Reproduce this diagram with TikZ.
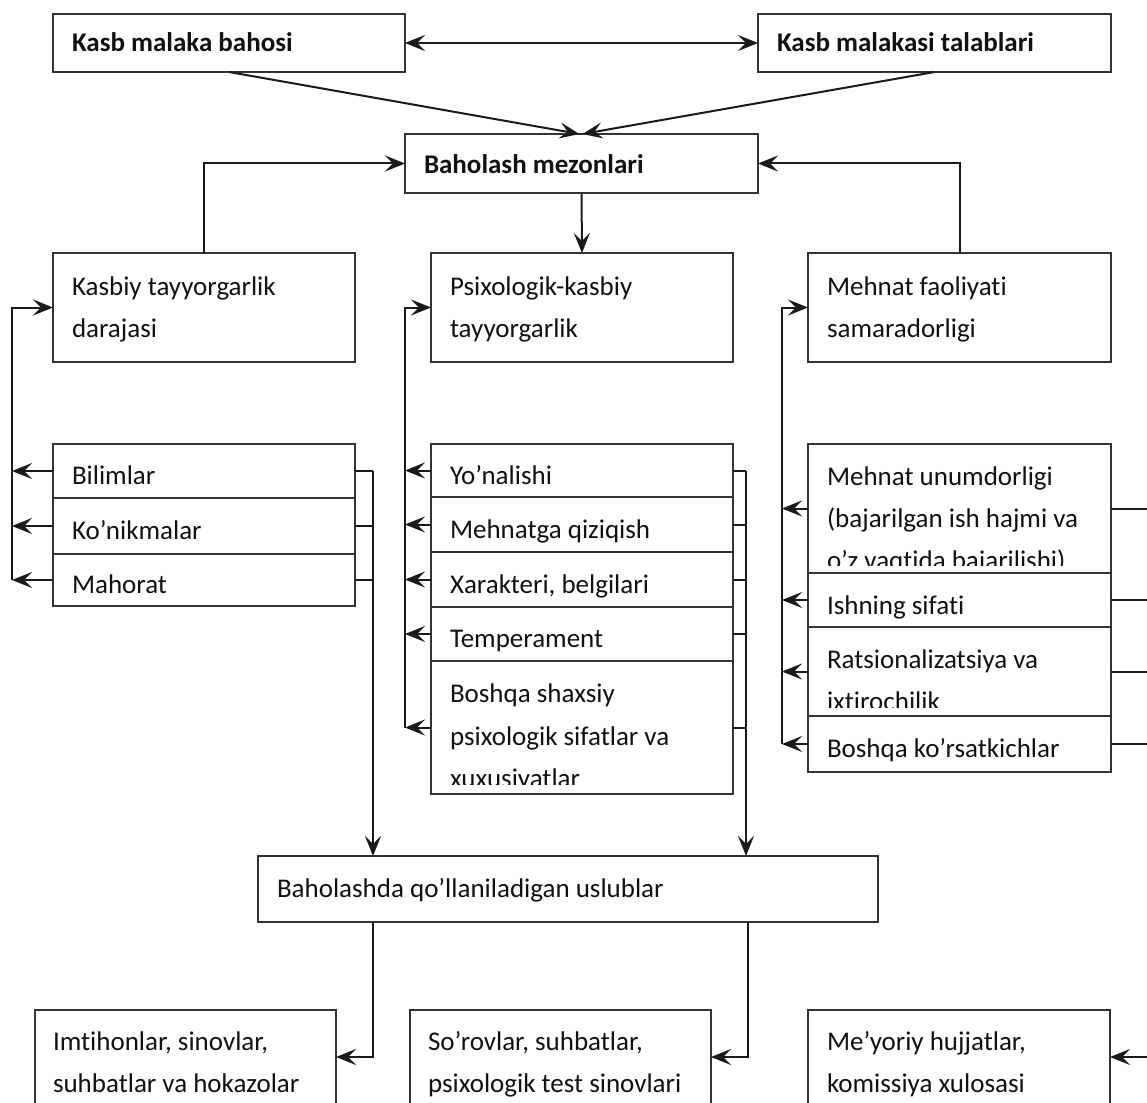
\documentclass[tikz,border=0pt]{standalone}
\usepackage{fontspec}
\setmainfont{Carlito}[Ligatures=NoCommon]
\usetikzlibrary{arrows.meta}
\definecolor{boxc}{HTML}{333333}
\definecolor{linec}{HTML}{1A1A1A}
\definecolor{txtc}{HTML}{111111}
\newcommand\bx[5]{\node[box, minimum width={(#4-#2)*1pt}, minimum height={(#5-#3)*1pt}, anchor=north west] (#1) at (#2,#3) {};}
\begin{document}
\begin{tikzpicture}[x=1pt,y=-1pt,
  box/.style={draw=boxc, line width=2pt, inner sep=0pt, outer sep=0pt, rectangle},
  txt/.style={anchor=base west, inner sep=0pt, outer sep=0pt, font=\fontsize{27}{30}\selectfont, text=txtc},
  btxt/.style={txt, font=\fontsize{27}{30}\selectfont\bfseries},
  conn/.style={draw=linec, line width=2pt},
  tip/.tip={Stealth[length=20pt,width=16pt,inset=8pt]},
  arr/.style={conn, -tip},
  darr/.style={conn, tip-tip}
]
\useasboundingbox (0,0) rectangle (1147,1102);
\fill[white] (0,0) rectangle (1147,1102);

% top level
\bx{a}{53}{14}{405}{72}
\node[btxt] (at) at (72,52) {Kasb malaka bahosi};
\bx{b}{758}{14}{1111}{72}
\node[btxt] (bt) at (777,52) {Kasb malakasi talablari};
\bx{c}{405}{134}{758}{193}
\node[btxt] (ct) at (424,173) {Baholash mezonlari};

% second level
\bx{d}{53}{253}{355}{362}
\node[txt] (dt1) at (72,295) {Kasbiy tayyorgarlik};
\node[txt] (dt2) at (72,337) {darajasi};
\bx{e}{431}{253}{733}{362}
\node[txt] (et1) at (450,295) {Psixologik-kasbiy};
\node[txt] (et2) at (450,337) {tayyorgarlik};
\bx{f}{808}{253}{1111}{362}
\node[txt] (ft1) at (827,295) {Mehnat faoliyati};
\node[txt] (ft2) at (827,337) {samaradorligi};

% left stack
\bx{l1}{53}{444}{355}{498}
\bx{l2}{53}{498}{355}{554}
\bx{l3}{53}{554}{355}{606}
\node[txt] (l1t) at (72,484) {Bilimlar};
\node[txt] (l2t) at (72,539) {Ko’nikmalar};
\node[txt] (l3t) at (72,593) {Mahorat};

% middle stack
\bx{m1}{431}{444}{733}{497}
\bx{m2}{431}{497}{733}{552}
\bx{m3}{431}{552}{733}{607}
\bx{m4}{431}{607}{733}{661}
\bx{m5}{431}{661}{733}{794}
\begin{scope}\clip (m1.north west) rectangle ([yshift=8pt]m1.south east);
\node[txt] (m1t) at (450,484) {Yo’nalishi};\end{scope}
\begin{scope}\clip (m2.north west) rectangle ([yshift=8pt]m2.south east);
\node[txt] (m2t) at (450,538) {Mehnatga qiziqish};\end{scope}
\begin{scope}\clip (m3.north west) rectangle ([yshift=8pt]m3.south east);
\node[txt] (m3t) at (450,593) {Xarakteri, belgilari};\end{scope}
\begin{scope}\clip (m4.north west) rectangle ([yshift=8pt]m4.south east);
\node[txt] (m4t) at (450,647) {Temperament};\end{scope}
\begin{scope}\clip (m5.north west) rectangle ([yshift=10pt]m5.south east);
\node[txt] (m5t1) at (450,702) {Boshqa shaxsiy};
\node[txt] (m5t2) at (450,745) {psixologik sifatlar va};
\node[txt] (m5t3) at (450,787) {xuxusiyatlar};\end{scope}

% right stack
\bx{r1}{808}{444}{1111}{573}
\bx{r2}{808}{573}{1111}{627}
\bx{r3}{808}{627}{1111}{716}
\bx{r4}{808}{716}{1111}{772}
\begin{scope}\clip (r1.north west) rectangle ([yshift=8pt]r1.south east);
\node[txt] (r1t1) at (827,485) {Mehnat unumdorligi};
\node[txt] (r1t2) at (827,527) {(bajarilgan ish hajmi va};
\node[txt] (r1t3) at (827,569) {o’z vaqtida bajarilishi)};\end{scope}
\begin{scope}\clip (r2.north west) rectangle ([yshift=8pt]r2.south east);
\node[txt] (r2t) at (827,614) {Ishning sifati};\end{scope}
\begin{scope}\clip (r3.north west) rectangle ([yshift=9pt]r3.south east);
\node[txt] (r3t1) at (827,668) {Ratsionalizatsiya va};
\node[txt] (r3t2) at (827,710) {ixtirochilik};\end{scope}
\begin{scope}\clip (r4.north west) rectangle ([yshift=8pt]r4.south east);
\node[txt] (r4t) at (827,757) {Boshqa ko’rsatkichlar};\end{scope}

% methods
\bx{p}{258}{856}{878}{922}
\node[txt] (pt) at (277,897) {Baholashda qo’llaniladigan uslublar};
\bx{g}{35}{1010}{336}{1104}
\node[txt] (gt1) at (53,1050) {Imtihonlar, sinovlar,};
\node[txt] (gt2) at (53,1092) {suhbatlar va hokazolar};
\bx{h}{410}{1010}{711}{1104}
\node[txt] (ht1) at (428,1050) {So’rovlar, suhbatlar,};
\node[txt] (ht2) at (428,1092) {psixologik test sinovlari};
\bx{i}{808}{1010}{1110}{1104}
\node[txt] (it1) at (827,1050) {Me’yoriy hujjatlar,};
\node[txt] (it2) at (827,1092) {komissiya xulosasi};

% bus coordinates
\coordinate (busL) at (12,0);
\coordinate (busM) at (405,0);
\coordinate (busR) at (782,0);
\coordinate (dnL) at (373,0);
\coordinate (dnM) at (746,0);
\coordinate (dnM2) at (748,0);
\coordinate (edge) at (1150,0);

% connectors top
\draw[darr] (a.east) -- (b.west);
\draw[arr] (a.south) -- ([xshift=-2pt]c.north);
\draw[arr] (b.south) -- ([xshift=1pt]c.north);
\draw[arr] (d.north) |- (c.west);
\draw[arr] (f.north) |- (c.east);
\draw[arr] (c.south) -- (e.north);

% left buses
\draw[arr] (busL |- l3.west) -- (busL |- d.west) -- (d.west);
\foreach \n in {l1,l2,l3} \draw[arr] (\n.west) -- (\n.west -| busL);
\draw[arr] (busM |- m5.west) -- (busM |- e.west) -- (e.west);
\foreach \n in {m1,m2,m3,m4,m5} \draw[arr] (\n.west) -- (\n.west -| busM);
\draw[arr] (busR |- r4.west) -- (busR |- f.west) -- (f.west);
\foreach \n in {r1,r2,r3,r4} \draw[arr] (\n.west) -- (\n.west -| busR);

% right side lines
\foreach \n in {l1,l2,l3} \draw[conn] (\n.east) -- (\n.east -| dnL);
\draw[arr] (l1.east -| dnL) -- (dnL |- p.north);
\foreach \n in {m1,m2,m3,m4,m5} \draw[conn] (\n.east) -- (\n.east -| dnM);
\draw[arr] (m1.east -| dnM) -- (dnM |- p.north);
\foreach \n in {r1,r2,r3,r4} \draw[conn] (\n.east) -- (\n.east -| edge);

% bottom
\draw[arr] (p.south -| dnL) |- (g.east);
\draw[arr] (p.south -| dnM2) |- (h.east);
\draw[arr] (i.east -| edge) -- (i.east);
\end{tikzpicture}
\end{document}
